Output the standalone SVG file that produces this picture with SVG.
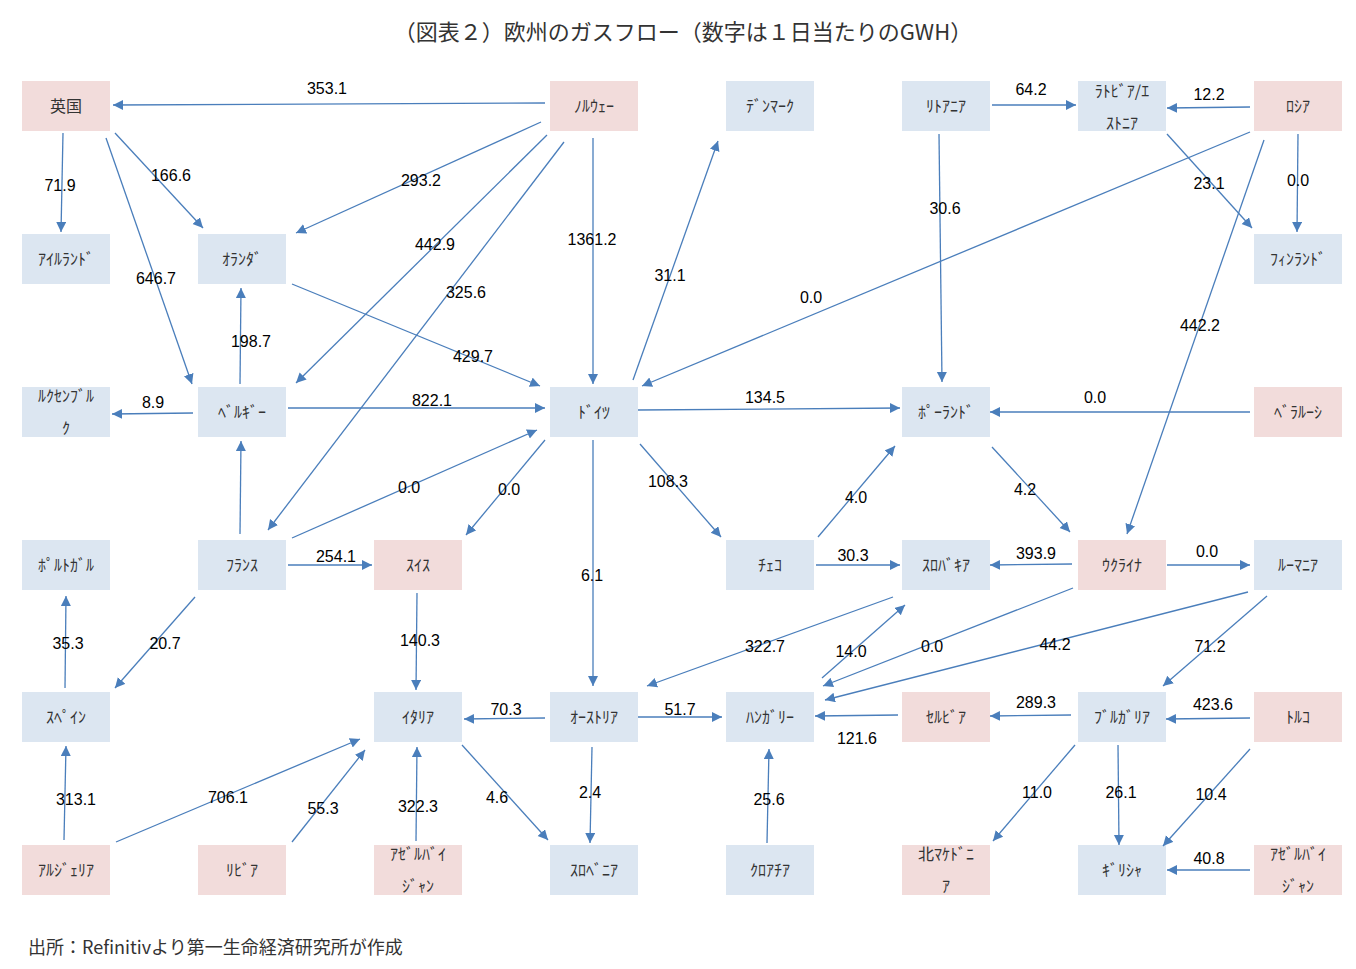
<svg xmlns="http://www.w3.org/2000/svg" width="1356" height="969" viewBox="0 0 1356 969">
<style>
.p{fill:#f2dcdb}.b{fill:#dce6f1}
.n{font-family:"Noto Sans CJK JP","Noto Sans",sans-serif;font-size:16px;fill:#333;text-anchor:middle}
.l{font-family:"Liberation Sans","Noto Sans",sans-serif;font-size:16px;fill:#000;text-anchor:middle}
#edges line{stroke:#4a7ebb;stroke-width:1.3;marker-end:url(#a)}
</style>
<defs><marker id="a" markerUnits="userSpaceOnUse" markerWidth="12" markerHeight="12" refX="10" refY="5" orient="auto"><path d="M0,0L10,5L0,10z" fill="#4a7ebb"/></marker></defs>
<rect width="1356" height="969" fill="#fff"/>
<text x="683" y="40" font-family="'Noto Sans CJK JP',sans-serif" font-size="22" fill="#333" text-anchor="middle">（図表２）欧州のガスフロー（数字は１日当たりのGWH）</text>
<g id="nodes">
<g id="uk"><rect class="p" x="22" y="81" width="88" height="50"/><text class="n" x="66" y="112">英国</text></g>
<g id="no"><rect class="p" x="550" y="81" width="88" height="50"/><text class="n" x="594" y="112">ﾉﾙｳｪｰ</text></g>
<g id="dk"><rect class="b" x="726" y="81" width="88" height="50"/><text class="n" x="770" y="112">ﾃﾞﾝﾏｰｸ</text></g>
<g id="lt"><rect class="b" x="902" y="81" width="88" height="50"/><text class="n" x="946" y="112">ﾘﾄｱﾆｱ</text></g>
<g id="lv"><rect class="b" x="1078" y="81" width="88" height="50"/><text class="n" x="1122" y="97">ﾗﾄﾋﾞｱ/ｴ</text><text class="n" x="1122" y="129">ｽﾄﾆｱ</text></g>
<g id="ru"><rect class="p" x="1254" y="81" width="88" height="50"/><text class="n" x="1298" y="112">ﾛｼｱ</text></g>
<g id="ie"><rect class="b" x="22" y="234" width="88" height="50"/><text class="n" x="66" y="265">ｱｲﾙﾗﾝﾄﾞ</text></g>
<g id="nl"><rect class="b" x="198" y="234" width="88" height="50"/><text class="n" x="242" y="265">ｵﾗﾝﾀﾞ</text></g>
<g id="fi"><rect class="b" x="1254" y="234" width="88" height="50"/><text class="n" x="1298" y="265">ﾌｨﾝﾗﾝﾄﾞ</text></g>
<g id="lu"><rect class="b" x="22" y="387" width="88" height="50"/><text class="n" x="66" y="402">ﾙｸｾﾝﾌﾞﾙ</text><text class="n" x="66" y="434">ｸ</text></g>
<g id="be"><rect class="b" x="198" y="387" width="88" height="50"/><text class="n" x="242" y="418">ﾍﾞﾙｷﾞｰ</text></g>
<g id="de"><rect class="b" x="550" y="387" width="88" height="50"/><text class="n" x="594" y="418">ﾄﾞｲﾂ</text></g>
<g id="pl"><rect class="b" x="902" y="387" width="88" height="50"/><text class="n" x="946" y="418">ﾎﾟｰﾗﾝﾄﾞ</text></g>
<g id="by"><rect class="p" x="1254" y="387" width="88" height="50"/><text class="n" x="1298" y="418">ﾍﾞﾗﾙｰｼ</text></g>
<g id="pt"><rect class="b" x="22" y="540" width="88" height="50"/><text class="n" x="66" y="571">ﾎﾟﾙﾄｶﾞﾙ</text></g>
<g id="fr"><rect class="b" x="198" y="540" width="88" height="50"/><text class="n" x="242" y="571">ﾌﾗﾝｽ</text></g>
<g id="ch"><rect class="p" x="374" y="540" width="88" height="50"/><text class="n" x="418" y="571">ｽｲｽ</text></g>
<g id="cz"><rect class="b" x="726" y="540" width="88" height="50"/><text class="n" x="770" y="571">ﾁｪｺ</text></g>
<g id="sk"><rect class="b" x="902" y="540" width="88" height="50"/><text class="n" x="946" y="571">ｽﾛﾊﾞｷｱ</text></g>
<g id="ua"><rect class="p" x="1078" y="540" width="88" height="50"/><text class="n" x="1122" y="571">ｳｸﾗｲﾅ</text></g>
<g id="ro"><rect class="b" x="1254" y="540" width="88" height="50"/><text class="n" x="1298" y="571">ﾙｰﾏﾆｱ</text></g>
<g id="es"><rect class="b" x="22" y="692" width="88" height="50"/><text class="n" x="66" y="723">ｽﾍﾟｲﾝ</text></g>
<g id="it"><rect class="b" x="374" y="692" width="88" height="50"/><text class="n" x="418" y="723">ｲﾀﾘｱ</text></g>
<g id="at"><rect class="b" x="550" y="692" width="88" height="50"/><text class="n" x="594" y="723">ｵｰｽﾄﾘｱ</text></g>
<g id="hu"><rect class="b" x="726" y="692" width="88" height="50"/><text class="n" x="770" y="723">ﾊﾝｶﾞﾘｰ</text></g>
<g id="rs"><rect class="p" x="902" y="692" width="88" height="50"/><text class="n" x="946" y="723">ｾﾙﾋﾞｱ</text></g>
<g id="bg"><rect class="b" x="1078" y="692" width="88" height="50"/><text class="n" x="1122" y="723">ﾌﾞﾙｶﾞﾘｱ</text></g>
<g id="tr"><rect class="p" x="1254" y="692" width="88" height="50"/><text class="n" x="1298" y="723">ﾄﾙｺ</text></g>
<g id="dz"><rect class="p" x="22" y="845" width="88" height="50"/><text class="n" x="66" y="876">ｱﾙｼﾞｪﾘｱ</text></g>
<g id="ly"><rect class="p" x="198" y="845" width="88" height="50"/><text class="n" x="242" y="876">ﾘﾋﾞｱ</text></g>
<g id="az1"><rect class="p" x="374" y="845" width="88" height="50"/><text class="n" x="418" y="860">ｱｾﾞﾙﾊﾞｲ</text><text class="n" x="418" y="892">ｼﾞｬﾝ</text></g>
<g id="si"><rect class="b" x="550" y="845" width="88" height="50"/><text class="n" x="594" y="876">ｽﾛﾍﾞﾆｱ</text></g>
<g id="hr"><rect class="b" x="726" y="845" width="88" height="50"/><text class="n" x="770" y="876">ｸﾛｱﾁｱ</text></g>
<g id="mk"><rect class="p" x="902" y="845" width="88" height="50"/><text class="n" x="946" y="860">北ﾏｹﾄﾞﾆ</text><text class="n" x="946" y="892">ｱ</text></g>
<g id="gr"><rect class="b" x="1078" y="845" width="88" height="50"/><text class="n" x="1122" y="876">ｷﾞﾘｼｬ</text></g>
<g id="az2"><rect class="p" x="1254" y="845" width="88" height="50"/><text class="n" x="1298" y="860">ｱｾﾞﾙﾊﾞｲ</text><text class="n" x="1298" y="892">ｼﾞｬﾝ</text></g>
</g>
<g id="edges">
<line x1="545" y1="103" x2="113" y2="105"/>
<line x1="63" y1="133" x2="61" y2="232"/>
<line x1="115" y1="133" x2="203" y2="228"/>
<line x1="106" y1="138" x2="192" y2="384"/>
<line x1="541" y1="122" x2="296" y2="233"/>
<line x1="547" y1="135" x2="296" y2="383"/>
<line x1="564" y1="142" x2="268" y2="530"/>
<line x1="593" y1="138" x2="593" y2="384"/>
<line x1="292" y1="284" x2="540" y2="386"/>
<line x1="240" y1="384" x2="241" y2="288"/>
<line x1="193" y1="413" x2="112" y2="414"/>
<line x1="288" y1="408" x2="545" y2="408"/>
<line x1="633" y1="380" x2="718" y2="141"/>
<line x1="1250" y1="132" x2="642" y2="386"/>
<line x1="638" y1="410" x2="900" y2="408"/>
<line x1="992" y1="105" x2="1076" y2="105"/>
<line x1="1250" y1="107" x2="1167" y2="108"/>
<line x1="1167" y1="134" x2="1252" y2="228"/>
<line x1="1298" y1="134" x2="1297" y2="232"/>
<line x1="939" y1="134" x2="942" y2="382"/>
<line x1="1264" y1="140" x2="1127" y2="534"/>
<line x1="1250" y1="412" x2="990" y2="412"/>
<line x1="992" y1="447" x2="1070" y2="532"/>
<line x1="818" y1="537" x2="895" y2="446"/>
<line x1="640" y1="444" x2="721" y2="537"/>
<line x1="545" y1="440" x2="466" y2="535"/>
<line x1="292" y1="538" x2="537" y2="430"/>
<line x1="240" y1="534" x2="241" y2="441"/>
<line x1="288" y1="565" x2="372" y2="565"/>
<line x1="593" y1="440" x2="593" y2="686"/>
<line x1="816" y1="565" x2="900" y2="565"/>
<line x1="1072" y1="564" x2="990" y2="565"/>
<line x1="1167" y1="565" x2="1250" y2="565"/>
<line x1="195" y1="597" x2="115" y2="688"/>
<line x1="65" y1="688" x2="66" y2="596"/>
<line x1="417" y1="593" x2="416" y2="690"/>
<line x1="893" y1="597" x2="647" y2="686"/>
<line x1="822" y1="678" x2="905" y2="605"/>
<line x1="1073" y1="588" x2="823" y2="686"/>
<line x1="1248" y1="592" x2="825" y2="700"/>
<line x1="1267" y1="596" x2="1163" y2="686"/>
<line x1="545" y1="718" x2="464" y2="719"/>
<line x1="638" y1="717" x2="722" y2="717"/>
<line x1="898" y1="715" x2="815" y2="716"/>
<line x1="1071" y1="715" x2="990" y2="716"/>
<line x1="1250" y1="718" x2="1166" y2="719"/>
<line x1="64" y1="840" x2="66" y2="746"/>
<line x1="116" y1="842" x2="360" y2="739"/>
<line x1="292" y1="842" x2="365" y2="750"/>
<line x1="416" y1="841" x2="417" y2="747"/>
<line x1="462" y1="745" x2="548" y2="840"/>
<line x1="592" y1="747" x2="590" y2="843"/>
<line x1="767" y1="843" x2="769" y2="749"/>
<line x1="1075" y1="745" x2="993" y2="841"/>
<line x1="1118" y1="745" x2="1119" y2="845"/>
<line x1="1250" y1="749" x2="1163" y2="846"/>
<line x1="1250" y1="870" x2="1167" y2="870"/>
</g>
<g id="labels">
<text class="l" x="327" y="94">353.1</text><text class="l" x="60" y="191">71.9</text><text class="l" x="171" y="181">166.6</text><text class="l" x="156" y="284">646.7</text>
<text class="l" x="421" y="186">293.2</text><text class="l" x="435" y="250">442.9</text><text class="l" x="466" y="298">325.6</text><text class="l" x="592" y="245">1361.2</text>
<text class="l" x="473" y="362">429.7</text><text class="l" x="251" y="347">198.7</text><text class="l" x="153" y="408">8.9</text><text class="l" x="432" y="406">822.1</text>
<text class="l" x="670" y="281">31.1</text><text class="l" x="811" y="303">0.0</text><text class="l" x="765" y="403">134.5</text><text class="l" x="1031" y="95">64.2</text>
<text class="l" x="1209" y="100">12.2</text><text class="l" x="1209" y="189">23.1</text><text class="l" x="1298" y="186">0.0</text><text class="l" x="945" y="214">30.6</text>
<text class="l" x="1200" y="331">442.2</text><text class="l" x="1095" y="403">0.0</text><text class="l" x="1025" y="495">4.2</text><text class="l" x="856" y="503">4.0</text>
<text class="l" x="668" y="487">108.3</text><text class="l" x="509" y="495">0.0</text><text class="l" x="409" y="493">0.0</text><text class="l" x="336" y="562">254.1</text>
<text class="l" x="592" y="581">6.1</text><text class="l" x="853" y="561">30.3</text><text class="l" x="1036" y="559">393.9</text><text class="l" x="1207" y="557">0.0</text>
<text class="l" x="165" y="649">20.7</text><text class="l" x="68" y="649">35.3</text><text class="l" x="420" y="646">140.3</text><text class="l" x="765" y="652">322.7</text>
<text class="l" x="851" y="657">14.0</text><text class="l" x="932" y="652">0.0</text><text class="l" x="1055" y="650">44.2</text><text class="l" x="1210" y="652">71.2</text>
<text class="l" x="506" y="715">70.3</text><text class="l" x="680" y="715">51.7</text><text class="l" x="857" y="744">121.6</text><text class="l" x="1036" y="708">289.3</text>
<text class="l" x="1213" y="710">423.6</text><text class="l" x="76" y="805">313.1</text><text class="l" x="228" y="803">706.1</text><text class="l" x="323" y="814">55.3</text>
<text class="l" x="418" y="812">322.3</text><text class="l" x="497" y="803">4.6</text><text class="l" x="590" y="798">2.4</text><text class="l" x="769" y="805">25.6</text>
<text class="l" x="1037" y="798">11.0</text><text class="l" x="1121" y="798">26.1</text><text class="l" x="1211" y="800">10.4</text><text class="l" x="1209" y="864">40.8</text>
</g>
<text x="28" y="954" font-family="'Noto Sans CJK JP',sans-serif" font-size="18" fill="#333">出所：Refinitivより第一生命経済研究所が作成</text>
</svg>
